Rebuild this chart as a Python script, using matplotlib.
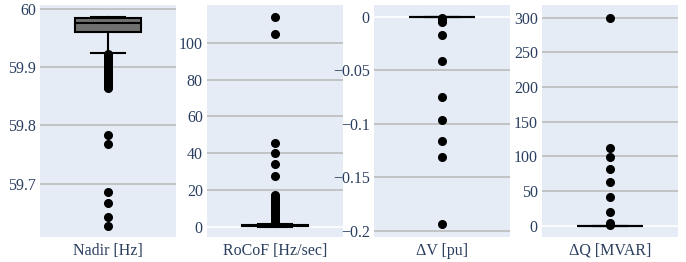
import matplotlib.pyplot as plt

# summary stats
labels = ['Nadir [Hz]', 'RoCoF [Hz/sec]', 'ΔV [pu]', 'ΔQ [MVAR]']
q1 = [59.9597, 0.3, -0.0004, 0.0]
med = [59.9760, 0.6, 0.0, 0.0]
q3 = [59.9846, 0.9, 0.0, 0.0]
whislo = [59.9238, 0.0, -0.0008, 0.0]
whishi = [59.9863, 1.5, 0.0, 0.0]

nadir_out = [59.922, 59.920, 59.918, 59.916, 59.914, 59.912, 59.910, 59.908,
             59.906, 59.904, 59.902, 59.900, 59.898, 59.896, 59.894, 59.892,
             59.890, 59.888, 59.886, 59.884, 59.882, 59.880, 59.878, 59.876,
             59.874, 59.872, 59.870, 59.868, 59.866, 59.864,
             59.783, 59.768, 59.686, 59.668, 59.644, 59.628]
rocof_out = [1.8, 2.3, 2.8, 3.3, 3.8, 4.3, 4.8, 5.3, 5.8, 6.3, 6.8, 7.3, 7.8,
             8.3, 8.8, 9.3, 9.8, 10.3, 10.8, 11.3, 11.8, 12.3, 12.8, 13.3,
             13.8, 14.3, 14.8, 15.3, 15.8, 16.3, 16.8, 17.2,
             27.6, 33.9, 40.1, 45.3, 104.9, 114.0]
dv_out = [-0.001, -0.003, -0.005, -0.0176, -0.0417, -0.0747, -0.0960,
          -0.1157, -0.1306, -0.1935]
dq_out = [300.0, 112.6, 99.5, 81.3, 63.0, 41.8, 20.2, 4.3, 1.5]
fliers = [nadir_out, rocof_out, dv_out, dq_out]

ylims = [(59.609, 60.006), (-5.6, 120.5), (-0.2055, 0.0108), (-16.3, 318.3)]
yticks = [[59.7, 59.8, 59.9, 60.0], [0, 20, 40, 60, 80, 100],
          [-0.2, -0.15, -0.1, -0.05, 0], [0, 50, 100, 150, 200, 250, 300]]
yticklabels = [['59.7', '59.8', '59.9', '60'],
               ['0', '20', '40', '60', '80', '100'],
               ['\u22120.2', '\u22120.15', '\u22120.1', '\u22120.05', '0'],
               ['0', '50', '100', '150', '200', '250', '300']]

plt.rcParams['font.family'] = ['Liberation Serif', 'DejaVu Serif']
txt = '#2a3f5f'
bg = '#e5ecf6'

fig = plt.figure(figsize=(6.86, 2.62), dpi=100)
lefts = [40, 207, 374, 542]
W, H = 686.0, 262.0

for i in range(4):
    ax = fig.add_axes([lefts[i] / W, 25 / H, 136 / W, 232 / H])
    ax.set_facecolor(bg)
    for s in ax.spines.values():
        s.set_visible(False)

    stats = [dict(q1=q1[i], med=med[i], q3=q3[i], whislo=whislo[i],
                  whishi=whishi[i], fliers=fliers[i])]
    ax.bxp(stats, positions=[1], widths=0.49, capwidths=0.245,
           patch_artist=True, showfliers=True, manage_ticks=False,
           boxprops=dict(facecolor='#707070', edgecolor='black', lw=1.5),
           medianprops=dict(color='black', lw=1.5),
           whiskerprops=dict(color='black', lw=1.5),
           capprops=dict(color='black', lw=1.5),
           flierprops=dict(marker='o', markerfacecolor='black',
                           markeredgecolor='black', markersize=5.5))

    ax.set_ylim(*ylims[i])
    ax.set_xlim(0.5, 1.5)
    ax.set_yticks(yticks[i])
    ax.set_yticklabels(yticklabels[i])
    ax.tick_params(axis='y', length=0, pad=3, labelsize=11.5, labelcolor=txt)
    ax.set_xticks([])
    ax.set_xlabel(labels[i], fontsize=11.5, color=txt, labelpad=4)
    for t in yticks[i]:
        if i > 0 and t == 0:
            ax.axhline(t, color='white', lw=1.2, zorder=0.5)
        else:
            ax.axhline(t, color='#bbbbbb', lw=1.2, zorder=0.5)

fig.savefig('out.png', dpi=100)
